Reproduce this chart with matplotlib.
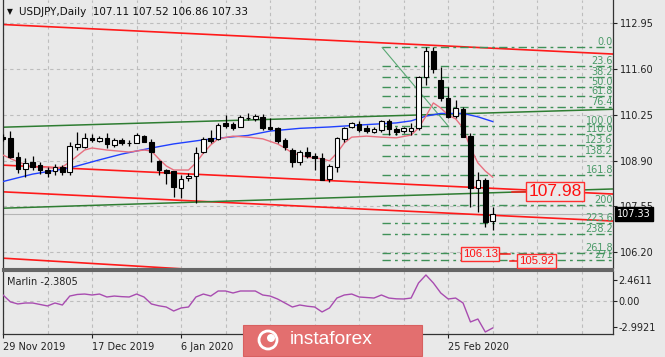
import matplotlib
matplotlib.use("Agg")
import matplotlib.pyplot as plt
import numpy as np
from matplotlib.patches import Rectangle, Ellipse

# ---------------- data ----------------
opens = [109.59, 109.57, 109.00, 108.65, 108.86, 108.77, 108.62, 108.59, 108.71, 108.56,
         109.30, 109.30, 109.57, 109.48, 109.57, 109.36, 109.51, 109.42, 109.42, 109.62,
         109.45, 108.89, 108.62, 108.59, 108.09, 108.38, 108.44, 109.15, 109.57, 109.54,
         110.01, 109.98, 109.89, 110.16, 110.13, 110.19, 109.89, 109.86, 109.51, 109.21,
         108.86, 109.15, 109.03, 108.98, 108.36, 108.71, 109.54, 109.89, 109.98, 109.86,
         109.74, 109.80, 110.07, 109.83, 109.77, 109.77, 109.86, 111.37, 112.13, 111.28,
         110.75, 110.21, 110.42, 109.62, 108.09, 108.33, 107.11]
highs = [109.68, 109.77, 109.15, 108.98, 109.03, 108.86, 108.71, 108.80, 108.77, 109.45,
         109.74, 109.71, 109.68, 109.62, 109.71, 109.57, 109.57, 109.51, 109.71, 109.65,
         109.54, 108.92, 108.65, 108.59, 108.47, 108.53, 109.30, 109.59, 109.80, 110.01,
         110.24, 110.04, 110.24, 110.30, 110.27, 110.27, 110.16, 109.89, 109.56, 109.27,
         109.21, 109.30, 109.12, 109.12, 108.80, 109.59, 109.89, 110.04, 110.07, 109.95,
         109.89, 110.10, 110.13, 109.89, 109.89, 110.01, 111.39, 112.25, 112.25, 111.66,
         111.07, 110.69, 110.48, 109.71, 108.56, 108.38, 107.52]
lows = [109.48, 108.98, 108.53, 108.41, 108.62, 108.50, 108.41, 108.47, 108.47, 108.47,
        109.21, 109.27, 109.45, 109.45, 109.27, 109.30, 109.36, 109.33, 109.42, 109.45,
        108.86, 108.47, 108.21, 107.82, 107.79, 108.30, 107.65, 109.12, 109.42, 109.51,
        109.86, 109.80, 109.89, 110.10, 110.07, 109.80, 109.80, 109.42, 109.21, 108.71,
        108.77, 108.98, 108.62, 108.33, 108.27, 108.56, 109.45, 109.86, 109.74, 109.71,
        109.71, 109.74, 109.65, 109.65, 109.71, 109.65, 109.80, 111.13, 111.48, 110.66,
        110.16, 110.16, 109.59, 107.53, 107.38, 106.94, 106.86]
closes = [109.54, 109.00, 108.65, 108.83, 108.71, 108.62, 108.53, 108.71, 108.56, 109.33,
          109.39, 109.57, 109.51, 109.57, 109.39, 109.51, 109.42, 109.41, 109.65, 109.45,
          109.15, 108.62, 108.53, 108.12, 108.36, 108.44, 109.12, 109.54, 109.48, 109.95,
          109.92, 109.86, 110.17, 110.15, 110.21, 109.86, 109.83, 109.48, 109.30, 108.86,
          109.15, 109.03, 108.98, 108.33, 108.74, 109.57, 109.86, 110.01, 109.80, 109.77,
          109.83, 110.07, 109.83, 109.74, 109.86, 109.86, 111.37, 112.13, 111.60, 110.75,
          110.19, 110.45, 109.59, 108.09, 108.33, 107.09, 107.33]

marlin = [0.69, -0.10, -0.34, -0.23, -0.23, -0.40, -0.57, -0.23, -0.46, 0.57,
          0.75, 0.80, 0.69, 0.80, 0.46, 0.57, 0.50, 0.46, 0.80, 0.46,
          -0.34, -0.55, -0.69, -1.15, -0.80, -0.69, 0.46, 0.80, 0.57, 1.15,
          1.15, 0.92, 1.15, 1.15, 1.15, 0.69, 0.57, 0.23, -0.23, -0.69,
          -0.46, -0.60, -0.69, -1.26, -0.80, 0.34, 0.69, 0.80, 0.46, 0.40,
          0.34, 0.69, 0.34, 0.25, 0.23, 0.34, 2.07, 2.99, 2.07, 0.92,
          0.23, 0.34, -0.23, -2.41, -2.07, -3.56, -3.10]

blue_idx = [0, 4, 9, 13, 16, 20, 23, 27, 30, 33, 36, 40, 44, 49, 53, 55, 57, 59, 62, 64, 66]
blue_val = [108.28, 108.50, 108.68, 108.92, 109.09, 109.27, 109.39, 109.51, 109.58, 109.64,
            109.77, 109.85, 109.89, 109.96, 110.01, 110.07, 110.21, 110.29, 110.29, 110.19, 110.05]

pink_idx = [0, 2, 4, 7, 8, 9, 11, 12, 14, 17, 19, 20, 21, 22, 23, 25, 26, 27, 28, 29, 31, 33,
            35, 37, 38, 39, 41, 43, 44, 45, 46, 47, 49, 51, 53, 55, 56, 57, 58, 59, 60, 61,
            62, 63, 64, 65, 66]
pink_val = [109.06, 108.86, 108.71, 108.68, 108.71, 108.86, 109.21, 109.27, 109.21, 109.15,
            109.21, 109.18, 108.95, 108.74, 108.62, 108.62, 108.83, 109.12, 109.36, 109.54,
            109.62, 109.59, 109.54, 109.39, 109.27, 109.12, 109.00, 108.95, 108.89, 109.12,
            109.42, 109.59, 109.62, 109.59, 109.57, 109.65, 109.86, 110.21, 110.60, 110.45,
            110.24, 110.13, 109.86, 109.27, 108.83, 108.59, 108.41]

# trend / channel lines: (bar index pair, price pair)
red_top_x, red_top_y = [0.0, 82.1], [112.915, 112.044]
red_mid_x, red_mid_y = [-0.4, 82.1], [108.768, 107.912]
red_low_x, red_low_y = [-0.4, 82.1], [107.980, 107.115]
red_bot_x, red_bot_y = [-0.4, 29.0], [106.023, 105.640]
green_up_x, green_up_y = [-0.4, 82.1], [109.881, 110.412]
green_low_x, green_low_y = [-0.4, 82.1], [107.490, 108.060]

# Fibonacci
fib_high, fib_low = 112.236, 109.919
fib_start, fib_end = 51.1, 60.0
fib_levels = [0, 23.6, 38.2, 50, 61.8, 76.4, 100, 110, 123.6, 138.2, 161.8, 200, 223.6, 238.2, 261.8, 271]
fib_labels = ['0.0', '23.6', '38.2', '50.0', '61.8', '76.4', '100.0', '110.0', '123.6', '138.2',
              '161.8', '200', '223.6', '238.2', '261.8', '271']

# annotations
big_label = (74.4, 107.98, '107.98')
small_labels = [(64.3, 106.14, '106.13'), (71.9, 105.935, '105.92')]
leaders = [([68.6, 70.6], [107.98, 107.98]), ([66.8, 68.3], [106.13, 106.13]), ([68.3, 69.4], [105.92, 105.92])]

price_ticks = [106.20, 107.55, 108.90, 110.25, 111.60, 112.95]
date_pos = [0, 12, 24, 36, 48, 60]
# labels at 36 and 48 are covered by the logo in the reference
date_labels = ['29 Nov 2019', '17 Dec 2019', '6 Jan 2020', '', '', '25 Feb 2020']
marlin_ticks = [2.4611, 0.0, -2.9921]
marlin_tick_labels = ['2.4611', '0.00', '-2.9921']
last_price = 107.33

# ---------------- figure ----------------
W, H = 665, 357
BG = '#e9e9e9'
fig = plt.figure(figsize=(W / 100, H / 100), dpi=100)
fig.patch.set_facecolor(BG)

def fx(px):
    return px / W

def fy(py):
    return 1 - py / H

XMAX = 82.17
ax = fig.add_axes([fx(3), fy(268.5), fx(612.7) - fx(3), fy(0) - fy(268.5)])
ax2 = fig.add_axes([fx(3), fy(334), fx(612.7) - fx(3), fy(271) - fy(334)])

for a in (ax, ax2):
    a.set_facecolor(BG)
    a.set_xlim(0, XMAX)
    for s in a.spines.values():
        s.set_color('#333333')
        s.set_linewidth(0.9)
    a.spines['top'].set_visible(False)

ax.set_ylim(105.713, 113.638)
ax2.set_ylim(-3.793, 3.448)
ax.spines['bottom'].set_color('#666666')
ax.spines['bottom'].set_linewidth(1.5)
ax2.spines['top'].set_visible(True)
ax2.spines['top'].set_color('#666666')
ax2.spines['top'].set_linewidth(1.5)

GRID = dict(color='#bdbdbd', lw=0.8, ls=(0, (3, 3)), zorder=0)
for g in range(0, 83, 6):
    ax.axvline(g, **GRID)
    ax2.axvline(g, **GRID)
for p in price_ticks:
    ax.axhline(p, **GRID)
ax2.axhline(0, **GRID)

# axis ticks
ax.yaxis.tick_right()
ax.set_yticks(price_ticks)
ax.set_yticklabels([f'{p:.2f}' for p in price_ticks])
ax.set_xticks([])
ax.tick_params(axis='y', length=3, pad=2.5, labelsize=7, colors='#222222')

ax2.yaxis.tick_right()
ax2.set_yticks(marlin_ticks)
ax2.set_yticklabels(marlin_tick_labels)
ax2.tick_params(axis='y', length=3, pad=1, labelsize=7, colors='#222222')
ax2.set_xticks(date_pos)
ax2.set_xticklabels(date_labels)
ax2.tick_params(axis='x', length=3, pad=3, labelsize=7, colors='#222222')
for lbl in ax2.get_xticklabels():
    lbl.set_ha('left')

# bid line
ax.axhline(last_price, color='#b5b5b5', lw=0.8, zorder=1)

# channel lines
RED = '#ff1a1a'
GREEN = '#2e7d32'
ax.plot(red_top_x, red_top_y, color=RED, lw=1.2, zorder=2)
ax.plot(red_mid_x, red_mid_y, color=RED, lw=1.2, zorder=2)
ax.plot(red_low_x, red_low_y, color=RED, lw=1.2, zorder=2)
ax.plot(red_bot_x, red_bot_y, color=RED, lw=1.2, zorder=2)
ax.plot(green_up_x, green_up_y, color=GREEN, lw=1.1, zorder=2)
ax.plot(green_low_x, green_low_y, color=GREEN, lw=1.1, zorder=2)

# fibonacci
fib_prices = [fib_high - (fib_high - fib_low) * L / 100 for L in fib_levels]
for fp, lab in zip(fib_prices, fib_labels):
    ax.hlines(fp, fib_start, XMAX, color='#3f9158', lw=1.0, ls=(0, (6, 3, 2, 3)), zorder=3)
    ax.text(XMAX + 0.05, fp, lab, ha='right', va='bottom', fontsize=7, color='#4a9a68',
            zorder=3, clip_on=True)
ax.plot([fib_start, fib_end], [fib_high, fib_low], color='#5aa874', lw=0.8, zorder=3)

# moving averages
ax.plot(blue_idx, blue_val, color='#2040ff', lw=1.0, zorder=4)
ax.plot(pink_idx, pink_val, color='#e8707f', lw=1.0, zorder=4)

# candles
x = np.arange(len(opens))
o = np.array(opens); c = np.array(closes)
ax.vlines(x, lows, highs, color='black', lw=0.9, zorder=5)
up = c >= o
ax.bar(x, np.maximum(np.abs(c - o), 0.012), bottom=np.minimum(o, c), width=0.62,
       color=np.where(up, 'white', 'black'), edgecolor='black', linewidth=0.8, zorder=6)

# annotations
for lx, ly in leaders:
    ax.plot(lx, ly, color=RED, lw=1.1, zorder=7)
bx, by, bt = big_label
ax.text(bx, by, bt, ha='center', va='center', fontsize=12.5, color='#ff1010',
        family='Liberation Sans', zorder=8,
        bbox=dict(boxstyle='square,pad=0.12', fc=BG, ec='#ff3030', lw=1.0))
for sx, sy, st in small_labels:
    ax.text(sx, sy, st, ha='center', va='center', fontsize=8.2, color='#ff1010',
            family='Liberation Sans', zorder=8,
            bbox=dict(boxstyle='square,pad=0.15', fc=BG, ec='#ff3030', lw=1.0))

# current price box on axis
ax.annotate(f'{last_price:.2f}', xy=(1.0, last_price), xycoords=('axes fraction', 'data'),
            xytext=(3, 0), textcoords='offset points', ha='left', va='center', fontsize=7,
            color='white', zorder=20, annotation_clip=False,
            bbox=dict(boxstyle='square,pad=0.2', fc='black', ec='black'))

# title
fig.text(fx(7), fy(12), '\u25BC', fontsize=5.5, color='#111111', va='center', ha='left')
fig.text(fx(19), fy(12), 'USDJPY,Daily  107.11 107.52 106.86 107.33', fontsize=7.5,
         color='#111111', va='center', ha='left')

# marlin panel
ax2.plot(np.arange(len(marlin)), marlin, color='#a84cb0', lw=1.0, zorder=3)
ax2.text(0.007, 0.83, 'Marlin -2.3805', transform=ax2.transAxes, fontsize=7,
         color='#222222', ha='left', va='center')

# logo
fig.patches.append(Rectangle((fx(243), fy(356)), fx(422) - fx(243), fy(325) - fy(356),
                             transform=fig.transFigure, facecolor='#e36f6f', edgecolor='#d86060',
                             lw=0.8, zorder=30))
fig.patches.append(Ellipse((fx(268), fy(340)), 18 / W, 18 / H, transform=fig.transFigure,
                           facecolor='none', edgecolor='white', lw=2.0, zorder=31))
fig.patches.append(Ellipse((fx(271), fy(338)), 8 / W, 8 / H, transform=fig.transFigure,
                           facecolor='white', edgecolor='none', zorder=31))
t = fig.text(fx(290), fy(340), 'instaforex', fontsize=13.8, color='white',
             family='Liberation Sans', va='center', ha='left')
t.set_zorder(32)

fig.savefig('out.png', dpi=100, facecolor=BG)
